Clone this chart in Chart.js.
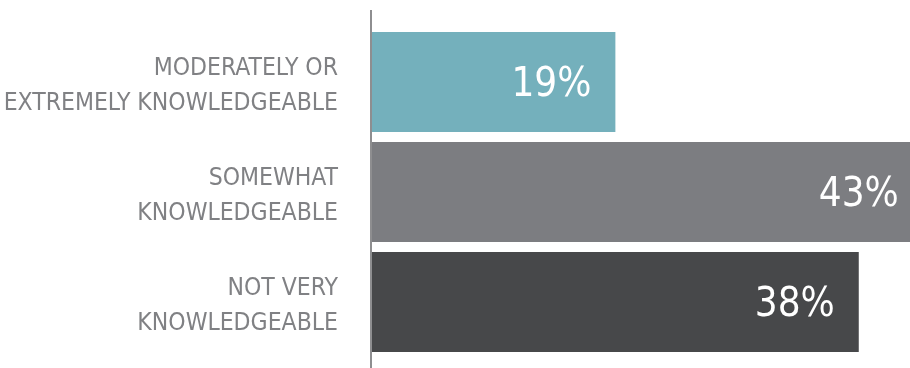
<!DOCTYPE html>
<html>
<head>
<meta charset="utf-8">
<script src="https://cdn.jsdelivr.net/npm/chart.js@4"></script>
<style>
  html, body { margin: 0; padding: 0; background: #fff; }
  #wrap { width: 910px; height: 368px; }
</style>
</head>
<body>
<div id="wrap"><canvas id="myChart"></canvas></div>
<script>
const categories = [
  ["MODERATELY OR", "EXTREMELY KNOWLEDGEABLE"],
  ["SOMEWHAT", "KNOWLEDGEABLE"],
  ["NOT VERY", "KNOWLEDGEABLE"],
];
const values = [19, 43, 38];
const barColors = ["#74b0bc", "#7c7d81", "#47484a"];

const labelFont = "'DejaVu Sans Condensed', 'Liberation Sans Narrow', sans-serif";

// axis line runs from near the top of the canvas to the bottom
const axisLine = {
  id: "axisLine",
  afterDatasetsDraw(chart) {
    const c = chart.ctx;
    const x = chart.chartArea.left - 1;
    c.save();
    c.strokeStyle = "#8e8e90";
    c.lineWidth = 2;
    c.beginPath();
    c.moveTo(x, 10);
    c.lineTo(x, chart.height);
    c.stroke();
    c.restore();
  },
};

// percentage labels inside the bar end
const valueLabels = {
  id: "valueLabels",
  afterDatasetsDraw(chart) {
    const c = chart.ctx;
    const meta = chart.getDatasetMeta(0);
    c.save();
    c.fillStyle = "#ffffff";
    c.font = "40px " + labelFont;
    c.textAlign = "right";
    c.textBaseline = "middle";
    meta.data.forEach(function (bar, i) {
      c.fillText(values[i] + "%", bar.x - 24, bar.y + 4);
    });
    c.restore();
  },
};

const ctx = document.getElementById("myChart");
const myChart = new Chart(ctx, {
  type: "bar",
  data: {
    labels: categories,
    datasets: [
      {
        data: values,
        backgroundColor: barColors,
        borderWidth: 0,
        barPercentage: 1,
        categoryPercentage: 100 / 110,
      },
    ],
  },
  options: {
    indexAxis: "y",
    responsive: true,
    maintainAspectRatio: false,
    animation: false,
    layout: { padding: { top: 27, bottom: 11, left: 0, right: 0 } },
    plugins: {
      legend: { display: false },
      tooltip: { enabled: false },
    },
    scales: {
      x: {
        display: false,
        min: 0,
        max: 42,
      },
      y: {
        afterFit: function (scale) {
          scale.width = 372;
          scale.paddingTop = 0;
          scale.paddingBottom = 0;
        },
        border: { display: false },
        grid: { display: false, drawTicks: false },
        ticks: {
          padding: 34,
          labelOffset: 4,
          color: "#808184",
          font: { family: labelFont, size: 24.5, lineHeight: 1.42 },
        },
      },
    },
  },
  plugins: [axisLine, valueLabels],
});
</script>
</body>
</html>
